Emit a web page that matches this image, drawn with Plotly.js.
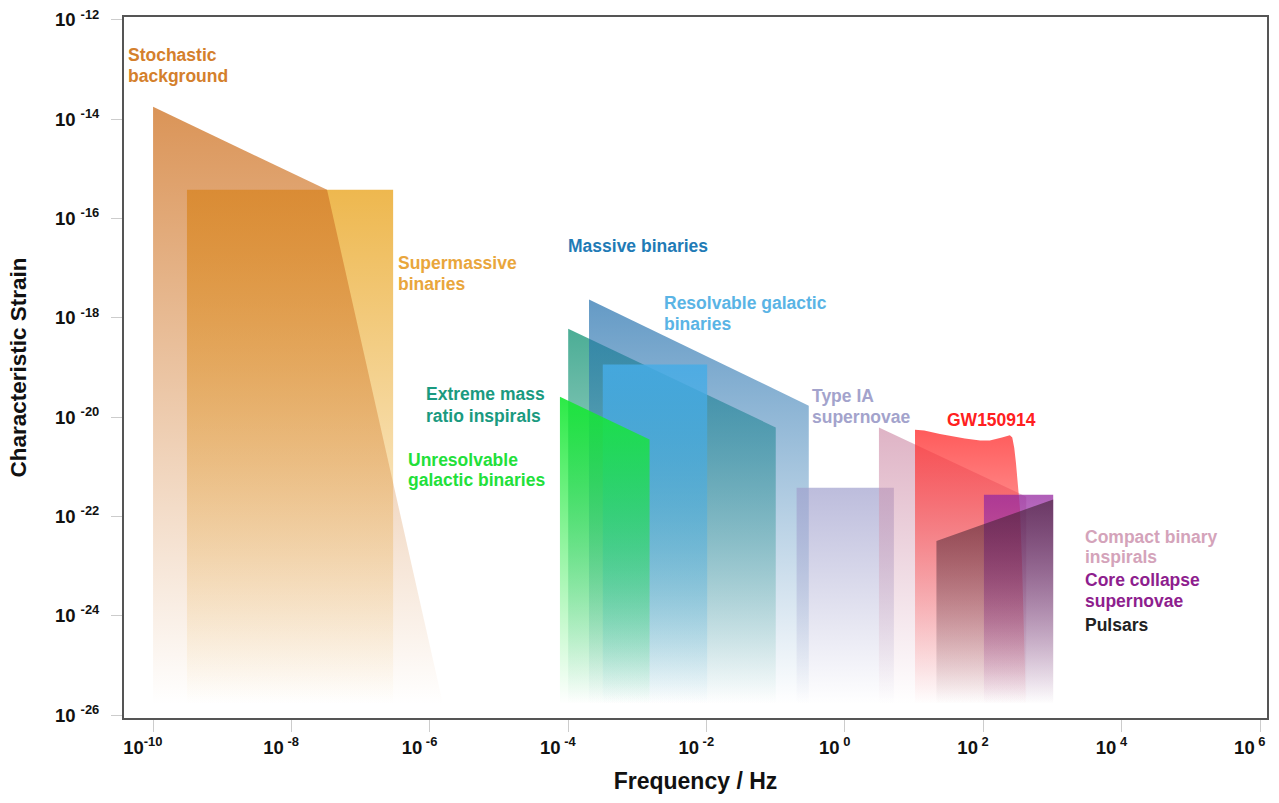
<!DOCTYPE html>
<html>
<head>
<meta charset="utf-8">
<script src="https://cdn.plot.ly/plotly-3.0.1.min.js"></script>
<style>html,body{margin:0;padding:0;background:#fff;}#chart{width:1279px;height:803px;}</style>
</head>
<body>
<div id="chart"></div>
<script>
// ---- data (frequency in Hz, characteristic strain) ----
const floorStrain = 1.66e-26;

const stochasticX = [1e-10, 3.27e-8, 1.55e-6, 1e-10];
const stochasticY = [1.78e-14, 3.8e-16, floorStrain, floorStrain];

const supermassiveX = [3.09e-10, 2.95e-7, 2.95e-7, 3.09e-10];
const supermassiveY = [3.8e-16, 3.8e-16, floorStrain, floorStrain];

const emriX = [1e-4, 0.1, 0.1, 1e-4];
const emriY = [6.0e-19, 6.2e-21, floorStrain, floorStrain];

const massiveX = [2.0e-4, 0.30, 0.30, 2.0e-4];
const massiveY = [2.34e-18, 1.7e-20, floorStrain, floorStrain];

const resolvableX = [3.16e-4, 1.02e-2, 1.02e-2, 3.16e-4];
const resolvableY = [1.15e-19, 1.15e-19, floorStrain, floorStrain];

const unresolvableX = [7.6e-5, 1.5e-3, 1.5e-3, 7.6e-5];
const unresolvableY = [2.57e-20, 3.55e-21, floorStrain, floorStrain];

const typeIAX = [0.2, 5.1, 5.1, 0.2];
const typeIAY = [3.8e-22, 3.8e-22, floorStrain, floorStrain];

const compactX = [3.1, 417, 417, 3.1];
const compactY = [6.2e-21, 2.5e-22, floorStrain, floorStrain];

const gwX = [10.3, 14, 23.6, 54.2, 90, 124, 186, 242, 262, 280, 296, 316, 338, 361, 386, 413, 10.3];
const gwY = [5.6e-21, 5.4e-21, 4.6e-21, 3.7e-21, 3.4e-21, 3.4e-21, 3.9e-21, 4.3e-21, 3.9e-21, 2.4e-21, 1.2e-21, 4.5e-22, 1.5e-22, 1.35e-23, 3.4e-25, floorStrain, floorStrain];

const coreX = [102, 1023, 1023, 102];
const coreY = [2.75e-22, 2.75e-22, floorStrain, floorStrain];

const pulsarX = [21, 1023, 1023, 21];
const pulsarY = [3.2e-23, 2.2e-22, floorStrain, floorStrain];

const xTickVals = [1e-10, 1e-8, 1e-6, 1e-4, 1e-2, 1, 1e2, 1e4, 1e6];
const xTickExp = ['-10', ' -8', ' -6', ' -4', ' -2', ' 0', ' 2', ' 4', ' 6'];
const yTickVals = [1e-12, 1e-14, 1e-16, 1e-18, 1e-20, 1e-22, 1e-24, 1e-26];
const yTickExp = ['-12', '-14', '-16', '-18', '-20', '-22', '-24', '-26'];

// ---- labels (one entry per text line; positions as log10 of axis values) ----
const labelLines = ['Stochastic', 'background', 'Supermassive', 'binaries', 'Massive binaries', 'Resolvable galactic', 'binaries', 'Extreme mass', 'ratio inspirals', 'Unresolvable', 'galactic binaries', 'Type IA', 'supernovae', 'GW150914', 'Compact binary', 'inspirals', 'Core collapse', 'supernovae', 'Pulsars'];
const labelLogX = [-10.395, -10.395, -6.49, -6.49, -4.035, -2.645, -2.645, -6.084, -6.084, -6.344, -6.344, -0.505, -0.505, 1.445, 3.439, 3.439, 3.439, 3.439, 3.439];
const labelLogY = [-12.704, -13.127, -16.889, -17.312, -16.547, -17.694, -18.117, -19.525, -19.968, -20.873, -21.276, -19.565, -19.988, -20.048, -22.423, -22.825, -23.288, -23.710, -24.193];
const labelColors = ['#D4802C', '#D4802C', '#E9A63C', '#E9A63C', '#1F7BB6', '#5AB4E5', '#5AB4E5', '#1A9A80', '#1A9A80', '#22E03A', '#22E03A', '#A3A3CC', '#A3A3CC', '#FF2020', '#D4A3BA', '#D4A3BA', '#8E1E8E', '#8E1E8E', '#222222'];

function band(x, y, r, g, b, a) {
  return {
    x: x, y: y, type: 'scatter', mode: 'lines', fill: 'toself',
    line: {width: 0, color: 'rgba(0,0,0,0)'},
    fillcolor: `rgba(${r},${g},${b},${a})`,
    fillgradient: {
      type: 'vertical',
      colorscale: [[0, `rgba(${r},${g},${b},0)`], [0.5, `rgba(${r},${g},${b},${(a*0.5).toFixed(3)})`], [1, `rgba(${r},${g},${b},${a})`]]
    },
    hoverinfo: 'skip', showlegend: false
  };
}

const traces = [
  band(supermassiveX, supermassiveY, 234, 168, 40, 0.82),
  band(stochasticX, stochasticY, 208, 118, 40, 0.78),
  band(emriX, emriY, 25, 150, 120, 0.78),
  band(massiveX, massiveY, 40, 115, 175, 0.72),
  band(resolvableX, resolvableY, 70, 172, 230, 0.85),
  band(unresolvableX, unresolvableY, 20, 232, 50, 0.9),
  band(typeIAX, typeIAY, 160, 160, 205, 0.7),
  band(compactX, compactY, 210, 150, 175, 0.72),
  band(gwX, gwY, 255, 50, 50, 0.8),
  band(coreX, coreY, 150, 40, 160, 0.75),
  band(pulsarX, pulsarY, 60, 30, 45, 0.6)
];

const fam = 'Liberation Sans, Arial, sans-serif';
const annotations = labelLines.map((t, i) => ({
  x: labelLogX[i], y: labelLogY[i], xref: 'x', yref: 'y',
  text: '<b>' + t + '</b>', showarrow: false, xanchor: 'left', yanchor: 'middle', align: 'left',
  font: {family: fam, size: 17.5, color: labelColors[i]}
}));

const nb = '\u00A0';
const axisFont = {family: fam, size: 18.5, color: '#111'};

const layout = {
  width: 1279, height: 803,
  margin: {l: 124, r: 12, t: 17, b: 85},
  paper_bgcolor: '#fff', plot_bgcolor: '#fff',
  showlegend: false, hovermode: false,
  xaxis: {
    type: 'log', range: [-10.42, 6.1],
    tickvals: xTickVals, ticktext: xTickExp.map(e => '<b>10<sup>' + e + '</sup>' + nb + nb + nb + nb + '</b>'),
    ticklabeloverflow: 'allow',
    ticks: 'outside', ticklen: 12, tickcolor: '#cccccc', tickwidth: 1,
    showgrid: false, zeroline: false,
    showline: true, mirror: true, linecolor: '#555', linewidth: 2,
    tickfont: axisFont,
    title: {text: '<b>Frequency / Hz</b>', font: {family: fam, size: 23, color: '#111'}, standoff: 16}
  },
  yaxis: {
    type: 'log', range: [-26.06, -11.94],
    tickvals: yTickVals, ticktext: yTickExp.map(e => '<b>10 <sup>' + e + '</sup></b>'),
    ticklabeloverflow: 'allow',
    ticks: 'outside', ticklen: 11, tickcolor: '#cccccc', tickwidth: 1,
    ticklabelstandoff: 8,
    showgrid: false, zeroline: false,
    showline: true, mirror: true, linecolor: '#555', linewidth: 2,
    tickfont: axisFont,
    title: {text: '<b>Characteristic Strain</b>', font: {family: fam, size: 22.5, color: '#111'}, standoff: 22}
  },
  annotations: annotations
};

Plotly.newPlot('chart', traces, layout, {displayModeBar: false, staticPlot: true});
</script>
</body>
</html>
